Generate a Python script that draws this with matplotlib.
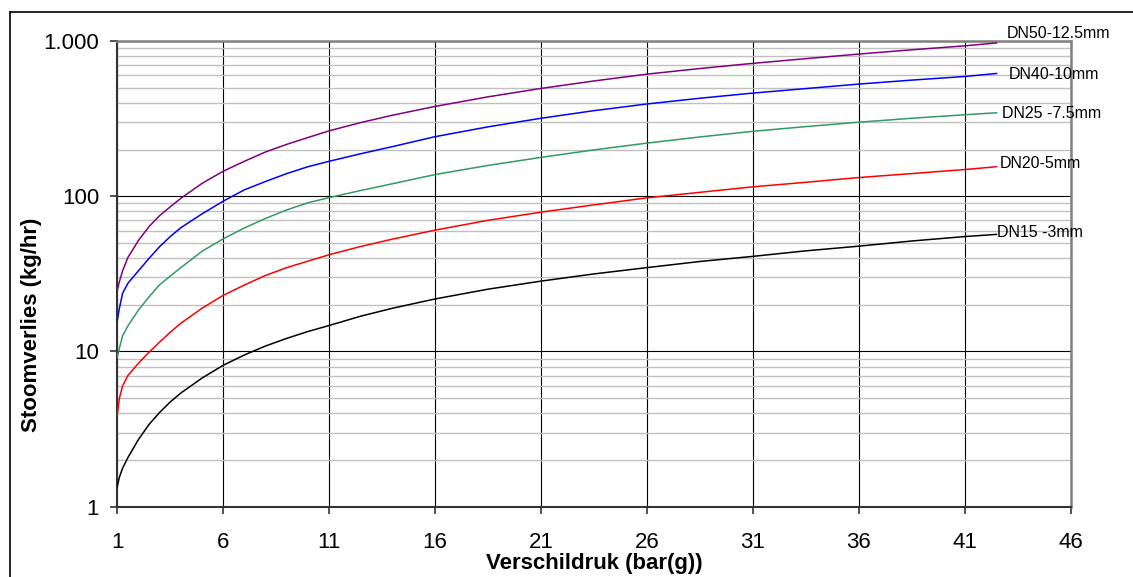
import matplotlib
matplotlib.use("Agg")
import matplotlib.pyplot as plt
from matplotlib.lines import Line2D

druk = [1, 1.1, 1.25, 1.5, 2, 2.5, 3, 3.5, 4, 5, 6, 7, 8, 9, 10, 11, 12.5, 14,
        16, 18.5, 21, 23.5, 26, 28.5, 31, 33.5, 36, 38.5, 41, 42.5]

# Stoomverlies (kg/hr) per leiding / opening
dn15 = [1.35, 1.55, 1.77, 2.07, 2.71, 3.39, 4.05, 4.73, 5.4, 6.74, 8.15, 9.5, 10.85, 12.15,
        13.45, 14.7, 16.9, 19.0, 21.8, 25.2, 28.4, 31.6, 34.7, 38, 41, 44.5, 47.7, 51.5, 55, 56.8]
dn20 = [3.9, 5.0, 6.0, 7.0, 8.4, 9.9, 11.5, 13.3, 15.2, 19.0, 23, 26.8, 30.9, 34.7,
        38.2, 42.0, 47.5, 53, 60.5, 70, 79, 88, 97.7, 106, 115, 123, 132, 140, 148.6, 155]
dn25 = [9.2, 10.5, 12.6, 14.6, 18.5, 22.5, 26.9, 30.6, 34.7, 44.2, 53.2, 62.5, 72, 81.7,
        90.8, 98, 109, 120.5, 138, 158, 178, 199, 220, 241, 262, 281, 300, 318, 335, 345]
dn40 = [15.9, 19, 23.7, 27.5, 33.1, 39.8, 47.4, 55.0, 62.7, 77, 93, 110, 124.5, 140,
        155, 168, 188, 209, 242, 280, 318, 356, 393, 428, 462, 494, 528, 560, 591, 618]
dn50 = [24.8, 28.2, 33, 40.3, 51.9, 63.8, 75, 85.5, 97, 121, 145, 168, 193, 216,
        239, 264, 298.5, 333, 379, 437, 495, 553, 612, 665, 718, 770, 824, 878, 931, 972]

namen = ["DN50-12.5mm", "DN40-10mm", "DN25 -7.5mm", "DN20-5mm", "DN15 -3mm"]
reeksen = [dn50, dn40, dn25, dn20, dn15]
kleuren = ["#800080", "#0000ff", "#339966", "#ff0000", "#000000"]
# verschuiving van de labels t.o.v. het eindpunt (pixels)
label_offset = [(10, 9), (12, -1), (5, -1), (3, 3), (0, 2)]

x_ticks = [1, 6, 11, 16, 21, 26, 31, 36, 41, 46]
y_ticks = [1, 10, 100, 1000]
y_labels = ["1", "10", "100", "1.000"]

plt.rcParams['font.family'] = ['Liberation Sans', 'DejaVu Sans']

fig = plt.figure(figsize=(11.33, 5.77), dpi=100)
ax = fig.add_axes([0.1035, 0.1218, 0.8415, 0.8071])

# rand om de figuur (linker- en bovenkant zichtbaar)
fig.add_artist(Line2D([0.0088, 1.0], [0.979, 0.979], color='black', lw=1.2))
fig.add_artist(Line2D([0.0088, 0.0088], [0.0, 0.979], color='black', lw=1.2))

for naam, y, kleur, off in zip(namen, reeksen, kleuren, label_offset):
    ax.plot(druk, y, color=kleur, lw=1.1, zorder=3)
    ax.annotate(naam, xy=(druk[-1], y[-1]), xytext=off, textcoords='offset pixels',
                ha='left', va='center', fontsize=11.5, annotation_clip=False)

ax.set_yscale('log')
ax.set_xlim(1, 46)
ax.set_ylim(1, 1000)
ax.set_xticks(x_ticks)
ax.set_yticks(y_ticks)
ax.set_yticklabels(y_labels)
ax.yaxis.set_minor_formatter(plt.NullFormatter())

# rasterlijnen
ax.grid(True, which='major', axis='both', color='black', lw=0.8, zorder=1)
ax.grid(True, which='minor', axis='y', color='#c0c0c0', lw=1.0, zorder=0)
ax.set_axisbelow(True)

ax.tick_params(which='major', direction='out', length=5, width=1.2, color='#333333',
               labelsize=16)
ax.tick_params(axis='y', which='major', pad=8)
ax.tick_params(axis='x', which='major', pad=13)
ax.tick_params(which='minor', length=0)

for s in ['left', 'bottom']:
    ax.spines[s].set_color('#333333')
    ax.spines[s].set_linewidth(1.5)
for s in ['top', 'right']:
    ax.spines[s].set_color('#808080')
    ax.spines[s].set_linewidth(1.8)

ax.set_xlabel('Verschildruk (bar(g))', fontsize=16, fontweight='bold')
ax.set_ylabel('Stoomverlies (kg/hr)', fontsize=16, fontweight='bold')
ax.xaxis.set_label_coords(0.5, -0.1)
ax.yaxis.set_label_coords(-0.079, 0.39)

plt.savefig('out.png', dpi=100)
